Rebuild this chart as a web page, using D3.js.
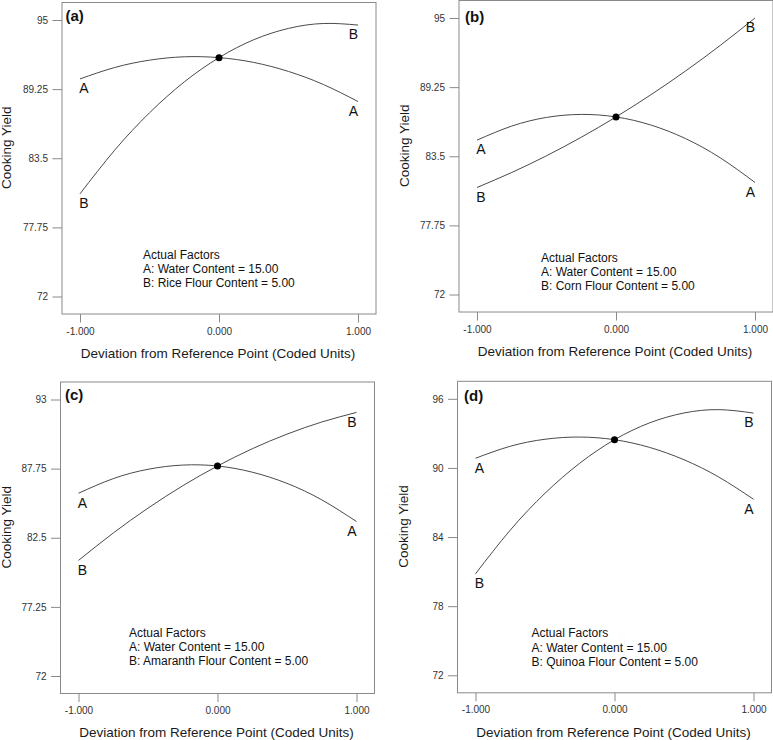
<!DOCTYPE html>
<html>
<head>
<meta charset="utf-8">
<script src="https://cdn.jsdelivr.net/npm/d3@7"></script>
<style>
  html, body { margin: 0; padding: 0; background: #fff; }
  svg { display: block; }
</style>
</head>
<body>
<div id="chart"></div>
<script>
// ---------------- DATA ----------------
const xPoints = [-1, -0.75, -0.5, -0.25, 0, 0.25, 0.5, 0.75, 1];
const xTickValues = [-1, 0, 1];
const xTickLabels = ["-1.000", "0.000", "1.000"];
const panelLabels = ["(a)", "(b)", "(c)", "(d)"];
const seriesNames = ["A", "B"];

const yTicksA = [72, 77.75, 83.5, 89.25, 95];
const yTicksB = [72, 77.75, 83.5, 89.25, 95];
const yTicksC = [72, 77.25, 82.5, 87.75, 93];
const yTicksD = [72, 78, 84, 90, 96];

// Cooking yield along each factor's deviation
const panelA_A = [90.10, 91.05, 91.66, 91.94, 91.87, 91.47, 90.72, 89.64, 88.22];
const panelA_B = [80.54, 84.18, 87.28, 89.85, 91.87, 93.36, 94.30, 94.71, 94.58];
const panelB_A = [84.84, 86.01, 86.73, 86.98, 86.77, 86.10, 84.97, 83.37, 81.32];
const panelB_B = [80.90, 82.15, 83.54, 85.08, 86.77, 88.61, 90.59, 92.72, 95.00];
const panelC_A = [85.88, 86.99, 87.70, 88.02, 87.95, 87.48, 86.63, 85.38, 83.73];
const panelC_B = [80.78, 82.86, 84.75, 86.45, 87.95, 89.26, 90.37, 91.29, 92.02];
const panelD_A = [90.84, 91.88, 92.49, 92.68, 92.45, 91.79, 90.71, 89.21, 87.28];
const panelD_B = [80.81, 84.60, 87.80, 90.41, 92.45, 93.90, 94.77, 95.06, 94.76];

const factorsA = ["Actual Factors", "A: Water Content = 15.00", "B: Rice Flour Content = 5.00"];
const factorsB = ["Actual Factors", "A: Water Content = 15.00", "B: Corn Flour Content = 5.00"];
const factorsC = ["Actual Factors", "A: Water Content = 15.00", "B: Amaranth Flour Content = 5.00"];
const factorsD = ["Actual Factors", "A: Water Content = 15.00", "B: Quinoa Flour Content = 5.00"];

const xTitle = "Deviation from Reference Point (Coded Units)";
const yTitle = "Cooking Yield";

// ---------------- LAYOUT ----------------
const W = 773, H = 740;
const frameW = 314, frameH = 311.5, padX = 18, padY = 17.5;

const panels = [
  { label: panelLabels[0], ticks: yTicksA, A: panelA_A, B: panelA_B, factors: factorsA,
    fx: 62, fy: 2.5, lblDx: 3.5, lblDy: 18, facDx: 63, facDy: -38, yTitleX: -51 },
  { label: panelLabels[1], ticks: yTicksB, A: panelB_A, B: panelB_B, factors: factorsB,
    fx: 459, fy: 0.5, lblDx: 6, lblDy: 21, facDx: 64, facDy: -33, yTitleX: -50 },
  { label: panelLabels[2], ticks: yTicksC, A: panelC_A, B: panelC_B, factors: factorsC,
    fx: 60.5, fy: 382, lblDx: 4.5, lblDy: 18, facDx: 50.5, facDy: -39, yTitleX: -49.5 },
  { label: panelLabels[3], ticks: yTicksD, A: panelD_A, B: panelD_B, factors: factorsD,
    fx: 457.5, fy: 381.3, lblDx: 6.5, lblDy: 19.5, facDx: 56, facDy: -38, yTitleX: -50 }
];

const svg = d3.select("#chart").append("svg")
  .attr("width", W).attr("height", H)
  .attr("viewBox", `0 0 ${W} ${H}`);

const FONT = "'Liberation Sans', Arial, Helvetica, sans-serif";
const NARROW = "'Liberation Sans Narrow', 'Arial Narrow', 'Liberation Sans', Arial, sans-serif";
const FRAME_COLOR = "#8a8a8a";
const LINE_COLOR = "#4a4a4a";

panels.forEach(p => {
  const g = svg.append("g");
  const x = d3.scaleLinear().domain([-1, 1]).range([p.fx + padX, p.fx + frameW - padX]);
  const y = d3.scaleLinear().domain([p.ticks[0], p.ticks[p.ticks.length - 1]])
    .range([p.fy + frameH - padY, p.fy + padY]);

  // frame
  g.append("rect")
    .attr("x", p.fx).attr("y", p.fy)
    .attr("width", frameW).attr("height", frameH)
    .attr("fill", "none").attr("stroke", FRAME_COLOR).attr("stroke-width", 1);

  // y axis
  const yAxis = g.append("g")
    .attr("transform", `translate(${p.fx},0)`)
    .call(d3.axisLeft(y).tickValues(p.ticks).tickFormat(d => String(d))
      .tickSize(9.5).tickPadding(4.5).tickSizeOuter(0));
  yAxis.select(".domain").remove();
  yAxis.selectAll(".tick line").attr("stroke", FRAME_COLOR);
  yAxis.selectAll(".tick text").attr("fill", "#333").style("font-family", NARROW).style("font-size", "10px");

  // x axis
  const xAxis = g.append("g")
    .attr("transform", `translate(0,${p.fy + frameH})`)
    .call(d3.axisBottom(x).tickValues(xTickValues).tickFormat((d, i) => xTickLabels[i])
      .tickSize(8.5).tickPadding(5).tickSizeOuter(0));
  xAxis.select(".domain").remove();
  xAxis.selectAll(".tick line").attr("stroke", FRAME_COLOR);
  xAxis.selectAll(".tick text").attr("fill", "#333").style("font-family", NARROW).style("font-size", "10px");

  // axis titles
  g.append("text")
    .attr("x", x(0) - 1).attr("y", p.fy + frameH + 43.8)
    .attr("text-anchor", "middle")
    .style("font-family", FONT).style("font-size", "13.5px").attr("fill", "#1a1a1a")
    .text(xTitle);
  const ty = (y.range()[0] + y.range()[1]) / 2 - 10.5;
  g.append("text")
    .attr("transform", `translate(${p.fx + p.yTitleX},${ty}) rotate(-90)`)
    .attr("text-anchor", "middle")
    .style("font-family", FONT).style("font-size", "13.5px").attr("fill", "#1a1a1a")
    .text(yTitle);

  // panel label
  g.append("text")
    .attr("x", p.fx + p.lblDx).attr("y", p.fy + p.lblDy)
    .style("font-family", FONT).style("font-size", "15px").style("font-weight", "bold")
    .attr("fill", "#111")
    .text(p.label);

  // curves
  const line = d3.line()
    .x((d, i) => x(xPoints[i]))
    .y(d => y(d))
    .curve(d3.curveNatural);
  [p.A, p.B].forEach((vals, si) => {
    g.append("path")
      .datum(vals)
      .attr("d", line)
      .attr("fill", "none")
      .attr("stroke", LINE_COLOR)
      .attr("stroke-width", 1);
    const first = vals[0], last = vals[vals.length - 1];
    g.append("text")
      .attr("x", x(xPoints[0]) + 4).attr("y", y(first) + 14.3)
      .attr("text-anchor", "middle")
      .style("font-family", FONT).style("font-size", "14px").attr("fill", "#111")
      .text(seriesNames[si]);
    g.append("text")
      .attr("x", x(xPoints[xPoints.length - 1]) - 4.5).attr("y", y(last) + 14.3)
      .attr("text-anchor", "middle")
      .style("font-family", FONT).style("font-size", "14px").attr("fill", "#111")
      .text(seriesNames[si]);
  });

  // reference point
  const ci = xPoints.indexOf(0);
  g.append("circle")
    .attr("cx", x(0)).attr("cy", y(p.A[ci]))
    .attr("r", 3.5).attr("fill", "#000");

  // actual factors text
  const ft = g.append("text")
    .style("font-family", FONT).style("font-size", "12px").attr("fill", "#111");
  p.factors.forEach((t, k) => {
    ft.append("tspan")
      .attr("x", x(-1) + p.facDx)
      .attr("y", y(p.ticks[0]) + p.facDy + k * 14.2)
      .text(t);
  });
});
</script>
</body>
</html>
